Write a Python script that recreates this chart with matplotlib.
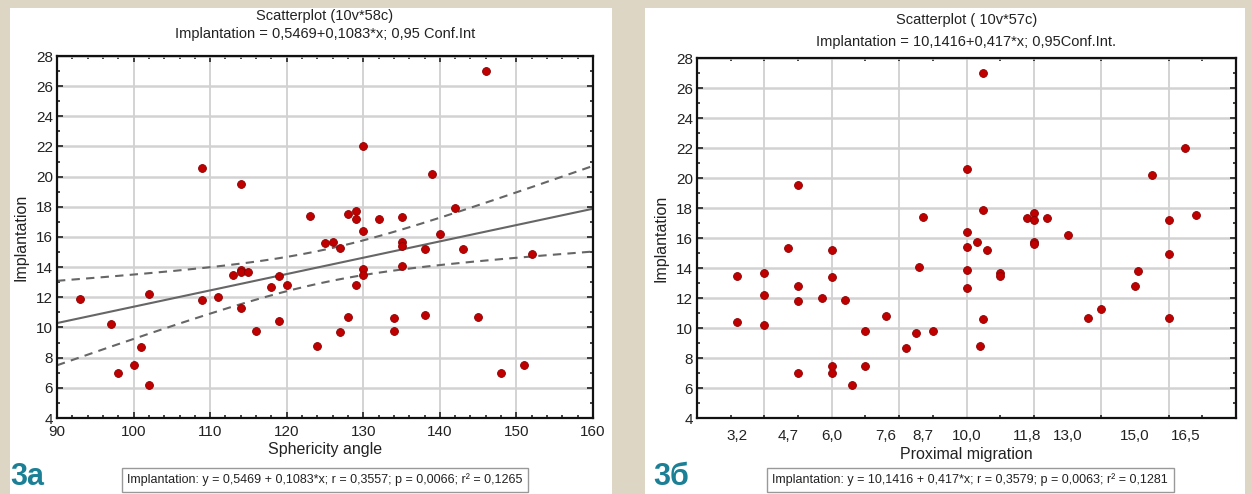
import numpy as np
import matplotlib.pyplot as plt
from matplotlib.patches import Rectangle
from matplotlib.ticker import MultipleLocator

plt.rcParams['font.family'] = ['Liberation Sans Narrow', 'Liberation Sans', 'DejaVu Sans']

# Fig 3a: sphericity angle vs implantation
angle = [93, 97, 98, 100, 101, 102, 102, 109, 109, 111, 113, 114, 114, 114, 114,
         115, 116, 118, 119, 119, 120, 123, 124, 146, 130, 139, 128, 129, 129, 132,
         135, 142, 130, 140, 125, 126, 127, 135, 135, 138, 143, 152, 130, 130, 135,
         129, 128, 127, 134, 134, 138, 145, 148, 151]
impl_a = [11.9, 10.2, 7.0, 7.5, 8.7, 12.2, 6.2, 20.6, 11.8, 12.0, 13.5, 19.5, 13.8, 13.7, 11.3,
          13.7, 9.8, 12.7, 13.4, 10.4, 12.8, 17.4, 8.8, 27.0, 22.0, 20.2, 17.5, 17.7, 17.2, 17.2,
          17.3, 17.9, 16.4, 16.2, 15.6, 15.7, 15.3, 15.7, 15.4, 15.2, 15.2, 14.9, 13.9, 13.5, 14.1,
          12.8, 10.7, 9.7, 10.6, 9.8, 10.8, 10.7, 7.0, 7.5]
# regression from the chart title (intercept, slope)
fit_a = (0.5469, 0.1083)

# Fig 3b: proximal migration vs implantation
migration = [3.2, 3.2, 4.0, 4.0, 4.0, 4.7, 5.0, 5.0, 5.0, 5.0, 5.7, 6.0, 6.0, 6.0, 6.0,
             6.4, 6.6, 7.0, 7.0, 7.6, 8.2, 8.5, 8.6, 8.7, 9.0, 10.0, 10.0, 10.4, 10.5, 11.0,
             11.0, 13.6, 14.0, 15.0, 15.1, 16.0, 16.0, 10.0, 10.0, 10.0, 10.3, 10.5, 10.6, 11.8,
             12.0, 12.0, 12.0, 12.0, 12.4, 13.0, 15.5, 16.0, 16.5, 16.8, 10.5]
impl_b = [13.5, 10.4, 13.7, 12.2, 10.2, 15.3, 19.5, 12.8, 11.8, 7.0, 12.0, 15.2, 13.4, 7.5, 7.0,
          11.9, 6.2, 9.8, 7.5, 10.8, 8.7, 9.7, 14.1, 17.4, 9.8, 13.9, 12.7, 8.8, 10.6, 13.7,
          13.5, 10.7, 11.3, 12.8, 13.8, 14.9, 10.7, 20.6, 16.4, 15.4, 15.7, 17.9, 15.2, 17.3,
          17.7, 17.2, 15.7, 15.6, 17.3, 16.2, 20.2, 17.2, 22.0, 17.5, 27.0]
migration_ticks = [3.2, 4.7, 6.0, 7.6, 8.7, 10.0, 11.8, 13.0, 15.0, 16.5]
migration_labels = ['3,2', '4,7', '6,0', '7,6', '8,7', '10,0', '11,8', '13,0', '15,0', '16,5']

titles = ['Scatterplot (10v*58c)\nImplantation = 0,5469+0,1083*x; 0,95 Conf.Int',
          'Scatterplot ( 10v*57c)\nImplantation = 10,1416+0,417*x; 0,95Conf.Int.']
stats = ['Implantation: y = 0,5469 + 0,1083*x; r = 0,3557; p = 0,0066; r² = 0,1265',
         'Implantation: y = 10,1416 + 0,417*x; r = 0,3579; p = 0,0063; r² = 0,1281']
panel_tags = ['3a', '3б']

beige = '#ddd6c4'
teal = '#1b7f95'
red = '#c00000'

fig = plt.figure(figsize=(12.52, 4.94), dpi=100, facecolor=beige)
W, H = 1252, 494

def fx(px):
    return px / W

def fy(py):
    return 1 - py / H

# white panels
for x0, x1 in [(10, 612), (645, 1245)]:
    fig.patches.append(Rectangle((fx(x0), 0), fx(x1 - x0), fy(8), transform=fig.transFigure,
                                 facecolor='white', edgecolor='none', zorder=-10))

ax1 = fig.add_axes([fx(57), fy(418), fx(593 - 57), (418 - 56) / H])
ax2 = fig.add_axes([fx(697), fy(418), fx(1236 - 697), (418 - 58) / H])


def style(ax):
    ax.set_ylim(4, 28)
    ax.yaxis.set_major_locator(MultipleLocator(2))
    ax.yaxis.set_minor_locator(MultipleLocator(1))
    ax.tick_params(which='both', direction='in', top=True, right=True, labelsize=11,
                   width=1.2, colors='#222222')
    ax.tick_params(which='major', length=4)
    ax.tick_params(which='minor', length=2.5)
    ax.tick_params(axis='y', pad=3)
    ax.tick_params(axis='x', pad=5)
    ax.grid(axis='y', color='#d2d2d2', lw=1.8, zorder=0)
    for s in ax.spines.values():
        s.set_linewidth(1.6)
        s.set_color('#111111')
    ax.set_ylabel('Implantation', fontsize=11.5, labelpad=5, color='#222222')
    ax.set_axisbelow(True)


# left panel
style(ax1)
ax1.set_xlim(90, 160)
ax1.xaxis.set_major_locator(MultipleLocator(10))
ax1.xaxis.set_minor_locator(MultipleLocator(2))
ax1.grid(axis='x', color='#c8c8c8', lw=1.1, zorder=0)
ax1.scatter(angle, impl_a, s=32, c=red, edgecolors='#8a0000', linewidths=0.6, zorder=3)

x = np.array(angle, float)
y = np.array(impl_a, float)
a, b = fit_a
n = len(x)
resid = y - (a + b * x)
s_err = np.sqrt(np.sum(resid ** 2) / (n - 2))
sxx = np.sum((x - x.mean()) ** 2)
xs = np.linspace(90, 160, 200)
fit = a + b * xs
half = 2.006 * s_err * np.sqrt(1 / n + (xs - x.mean()) ** 2 / sxx)
ax1.plot(xs, fit, color='#666666', lw=1.5, zorder=2)
ax1.plot(xs, fit + half, color='#666666', lw=1.5, ls=(0, (4, 3)), zorder=2)
ax1.plot(xs, fit - half, color='#666666', lw=1.5, ls=(0, (4, 3)), zorder=2)
ax1.set_xlabel('Sphericity angle', fontsize=11.5, labelpad=2, color='#222222')

# right panel
style(ax2)
ax2.set_xlim(2, 18)
ax2.set_xticks(migration_ticks, migration_labels)
ax2.tick_params(axis='x', which='major', length=0, pad=8)
ax2.xaxis.set_minor_locator(MultipleLocator(1))
for gx in range(4, 17, 2):
    ax2.axvline(gx, color='#c8c8c8', lw=1.1, zorder=0)
ax2.scatter(migration, impl_b, s=32, c=red, edgecolors='#8a0000', linewidths=0.6, zorder=3)
ax2.set_xlabel('Proximal migration', fontsize=11.5, labelpad=3, color='#222222')

# titles, tags, stats boxes
for ax, t, ty, ls, tag, st, tx, bx in [
        (ax1, titles[0], 25, 1.35, panel_tags[0], stats[0], 10, 325),
        (ax2, titles[1], 31, 1.65, panel_tags[1], stats[1], 653, 970)]:
    pos = ax.get_position()
    fig.text((pos.x0 + pos.x1) / 2, fy(ty), t, ha='center', va='center', fontsize=10.5,
             linespacing=ls, color='#222222')
    fig.text(fx(tx), fy(477), tag, ha='left', va='center', fontsize=22, fontweight='bold',
             color=teal)
    fig.text(fx(bx), fy(480), st, ha='center', va='center', fontsize=9, color='#222222',
             bbox=dict(boxstyle='square,pad=0.45', facecolor='white', edgecolor='#999999', lw=1))

fig.savefig('out.png', dpi=100, facecolor=beige)
